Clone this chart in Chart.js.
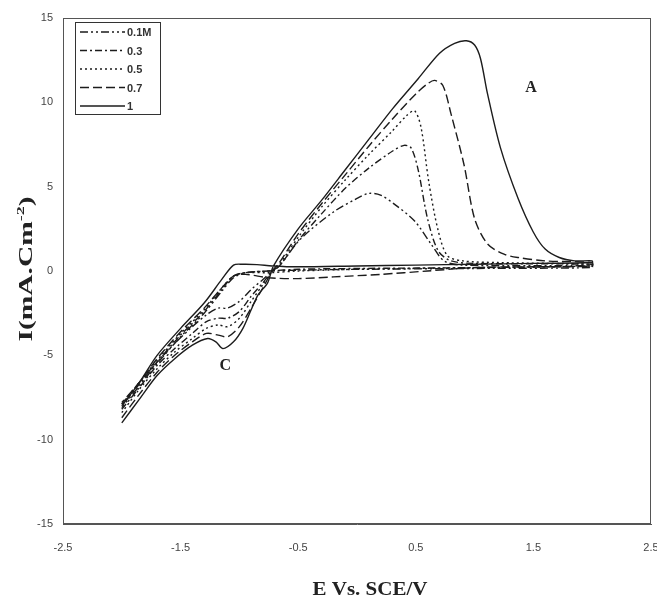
<!DOCTYPE html>
<html>
<head>
<meta charset="utf-8">
<script src="https://cdn.jsdelivr.net/npm/chart.js@4.4.1/dist/chart.umd.min.js"></script>
<style>
  html, body { margin: 0; padding: 0; background: #fff; }
  canvas { display: block; }
</style>
</head>
<body>
<canvas id="cv" width="657" height="604"></canvas>
<script>
// Cyclic voltammograms: current density vs potential for five concentrations.
// Each curve is one closed loop: forward sweep -2 V -> +2 V, then back.

const xTicks = [-2.5, -1.5, -0.5, 0.5, 1.5, 2.5];
const labels = ['0.1M', '0.3', '0.5', '0.7', '1'];

// 0.1 M
const e01 = [-2.0, -1.85, -1.7, -1.55, -1.4, -1.28, -1.18, -1.1, -1.0, -0.9, -0.8, -0.72, -0.66, -0.48, -0.2, 0.0, 0.1, 0.2, 0.32, 0.49, 0.63, 0.74, 0.9, 2.0,
             2.0, 1.0, 0.0, -0.5, -0.75, -0.95, -1.05, -1.15, -1.3, -1.5, -1.7, -1.85, -2.0];
const i01 = [-7.9, -6.6, -5.4, -4.3, -3.3, -2.6, -2.2, -2.2, -1.8, -1.1, -0.5, 0.0, 0.3, 1.9, 3.5, 4.3, 4.6, 4.5, 3.95, 2.96, 1.6, 0.6, 0.35, 0.3,
             0.2, 0.15, 0.1, 0.05, 0.0, -0.1, -0.4, -1.2, -2.5, -3.9, -5.5, -6.8, -8.1];

// 0.3 M
const e03 = [-2.0, -1.85, -1.7, -1.55, -1.4, -1.28, -1.18, -1.1, -1.0, -0.9, -0.8, -0.72, -0.66, -0.5, -0.3, -0.1, 0.1, 0.3, 0.4, 0.46, 0.52, 0.6, 0.69, 0.8, 1.0, 2.0,
             2.0, 1.0, 0.0, -0.5, -0.75, -0.95, -1.05, -1.15, -1.3, -1.5, -1.7, -1.85, -2.0];
const i03 = [-8.2, -6.9, -5.6, -4.6, -3.7, -3.0, -2.8, -2.8, -2.4, -1.5, -0.7, 0.0, 0.3, 1.8, 3.4, 4.9, 6.1, 7.1, 7.45, 7.3, 6.0, 3.1, 1.2, 0.6, 0.45, 0.4,
             0.3, 0.2, 0.15, 0.1, 0.0, -0.1, -0.3, -1.1, -2.4, -3.8, -5.4, -6.7, -8.0];

// 0.5 M
const e05 = [-2.0, -1.85, -1.7, -1.55, -1.4, -1.28, -1.18, -1.1, -1.0, -0.9, -0.8, -0.72, -0.66, -0.5, -0.3, -0.1, 0.1, 0.3, 0.42, 0.49, 0.545, 0.61, 0.69, 0.77, 0.9, 1.2, 2.0,
             2.0, 1.0, 0.0, -0.5, -0.75, -0.95, -1.05, -1.15, -1.3, -1.5, -1.7, -1.85, -2.0];
const i05 = [-8.4, -7.0, -5.8, -4.8, -4.0, -3.4, -3.2, -3.3, -2.8, -1.8, -0.8, 0.0, 0.4, 2.0, 3.8, 5.4, 6.9, 8.3, 9.2, 9.5, 8.5, 5.3, 2.4, 0.9, 0.6, 0.5, 0.4,
             0.3, 0.2, 0.1, 0.0, -0.1, -0.1, -0.3, -1.0, -2.3, -3.7, -5.3, -6.6, -7.9];

// 0.7 M
const e07 = [-2.0, -1.85, -1.7, -1.55, -1.4, -1.28, -1.18, -1.1, -1.0, -0.9, -0.8, -0.72, -0.66, -0.5, -0.3, -0.1, 0.1, 0.3, 0.5, 0.6, 0.66, 0.73, 0.8, 0.91, 1.0, 1.11, 1.25, 1.37, 1.6, 2.0,
             2.0, 1.5, 1.0, 0.6, 0.2, -0.2, -0.5, -0.75, -0.95, -1.05, -1.15, -1.3, -1.5, -1.7, -1.85, -2.0];
const i07 = [-8.7, -7.3, -6.0, -5.0, -4.2, -3.7, -3.8, -3.9, -3.3, -2.2, -1.0, 0.0, 0.5, 2.2, 4.0, 5.7, 7.4, 9.0, 10.5, 11.1, 11.3, 11.0, 9.3, 6.3, 3.1, 1.6, 1.0, 0.8, 0.6, 0.5,
             0.3, 0.25, 0.2, 0.0, -0.2, -0.35, -0.45, -0.4, -0.2, -0.3, -1.0, -2.2, -3.6, -5.2, -6.6, -7.8];

// 1 M
const e1 = [-2.0, -1.85, -1.7, -1.55, -1.4, -1.27, -1.2, -1.14, -1.05, -0.97, -0.9, -0.84, -0.76, -0.71, -0.5, -0.3, -0.1, 0.1, 0.3, 0.52, 0.7, 0.83, 0.93, 1.0, 1.05, 1.11, 1.22, 1.37, 1.5, 1.6, 1.72, 1.85, 2.0,
            2.0, 1.5, 1.0, 0.5, 0.0, -0.5, -0.72, -0.85, -0.97, -1.05, -1.15, -1.3, -1.5, -1.7, -1.85, -2.0];
const i1 = [-9.0, -7.6, -6.2, -5.2, -4.4, -4.0, -4.2, -4.6, -4.2, -3.4, -2.3, -1.4, -0.7, 0.3, 2.5, 4.2, 6.0, 7.8, 9.6, 11.4, 12.9, 13.5, 13.65, 13.4, 12.6, 10.5, 7.3, 4.3, 2.3, 1.3, 0.8, 0.6, 0.6,
            0.5, 0.45, 0.4, 0.35, 0.3, 0.25, 0.3, 0.38, 0.4, 0.35, -0.5, -1.9, -3.4, -5.0, -6.6, -8.0];

const series = [
  { label: labels[0], e: e01, i: i01, dash: [8, 3, 2, 3, 2, 3] },
  { label: labels[1], e: e03, i: i03, dash: [7, 3, 2, 3] },
  { label: labels[2], e: e05, i: i05, dash: [2, 3] },
  { label: labels[3], e: e07, i: i07, dash: [9, 4] },
  { label: labels[4], e: e1,  i: i1,  dash: [] }
];

const ink = '#1c1c1c';
const serif = '"Liberation Serif", "DejaVu Serif", serif';

const datasets = series.map(s => ({
  label: s.label,
  data: s.e.map((x, k) => ({ x: x, y: s.i[k] })),
  borderColor: ink,
  borderWidth: 1.4,
  borderDash: s.dash,
  pointRadius: 0,
  showLine: true,
  fill: false,
  tension: 0.3
}));

// Draws a run of [text, size, rise] pieces centred on the origin, stretched to a given width.
function drawStretched(ctx, pieces, targetWidth) {
  let total = 0;
  pieces.forEach(p => { ctx.font = 'bold ' + p[1] + 'px ' + serif; total += ctx.measureText(p[0]).width; });
  const k = targetWidth / total;
  ctx.scale(k, 1);
  let x = -total / 2;
  pieces.forEach(p => {
    ctx.font = 'bold ' + p[1] + 'px ' + serif;
    ctx.fillText(p[0], x, -p[2]);
    x += ctx.measureText(p[0]).width;
  });
}

// Closes the plot box and writes axis titles, peak letters and the legend.
const decor = {
  id: 'decor',
  afterDatasetsDraw(chart) {
    const { ctx, chartArea: a, scales } = chart;
    ctx.save();
    ctx.strokeStyle = '#555';
    ctx.lineWidth = 1;
    ctx.setLineDash([]);
    ctx.strokeRect(a.left + 0.5, a.top + 0.5, a.right - a.left - 1, a.bottom - a.top - 1);

    // Axis titles
    ctx.fillStyle = '#222';
    ctx.textAlign = 'left';
    ctx.textBaseline = 'middle';
    ctx.save();
    ctx.translate(370, 590);
    drawStretched(ctx, [['E Vs. SCE/V', 18, 0]], 115);
    ctx.restore();
    ctx.save();
    ctx.translate(27, 269);
    ctx.rotate(-Math.PI / 2);
    drawStretched(ctx, [['I(mA.Cm', 18, 0], ['-2', 11, 6], [')', 18, 0]], 145);
    ctx.restore();

    // Peak letters
    ctx.font = 'bold 16px ' + serif;
    ctx.textAlign = 'center';
    ctx.fillText('A', scales.x.getPixelForValue(1.48), scales.y.getPixelForValue(10.85));
    ctx.fillText('C', scales.x.getPixelForValue(-1.12), scales.y.getPixelForValue(-5.63));

    // Legend box
    const bx = 75, by = 22, bw = 85, bh = 92;
    ctx.strokeStyle = '#333';
    ctx.strokeRect(bx + 0.5, by + 0.5, bw, bh);
    ctx.font = 'bold 11px "Liberation Sans", Arial, sans-serif';
    ctx.textAlign = 'left';
    ctx.fillStyle = '#333';
    chart.data.datasets.forEach((d, k) => {
      const yy = by + 10 + k * 18.5;
      ctx.beginPath();
      ctx.setLineDash(d.borderDash);
      ctx.lineWidth = 1.3;
      ctx.strokeStyle = ink;
      ctx.moveTo(bx + 5, yy);
      ctx.lineTo(bx + 50, yy);
      ctx.stroke();
      ctx.setLineDash([]);
      ctx.fillText(d.label, bx + 52, yy + 1);
    });
    ctx.restore();
  }
};

new Chart(document.getElementById('cv').getContext('2d'), {
  type: 'scatter',
  data: { datasets },
  options: {
    responsive: false,
    animation: false,
    layout: { padding: { top: 18, right: 6, left: 0, bottom: 0 } },
    plugins: { legend: { display: false }, tooltip: { enabled: false } },
    scales: {
      x: {
        type: 'linear',
        min: -2.5, max: 2.5,
        afterBuildTicks: s => { s.ticks = xTicks.map(v => ({ value: v })); },
        afterFit: s => { s.height = 80; s.paddingLeft = 0; s.paddingRight = 0; },
        grid: { display: false, drawTicks: false },
        border: { display: true, color: '#555' },
        ticks: {
          padding: 17,
          color: '#444',
          font: { family: '"Liberation Sans", Arial, sans-serif', size: 11 },
          callback: v => v.toFixed(1)
        }
      },
      y: {
        type: 'linear',
        min: -15, max: 15,
        ticks: {
          stepSize: 5,
          padding: 10,
          color: '#444',
          font: { family: '"Liberation Sans", Arial, sans-serif', size: 11 }
        },
        afterFit: s => { s.width = 63; s.paddingTop = 0; s.paddingBottom = 0; },
        grid: { display: false, drawTicks: false },
        border: { display: true, color: '#555' }
      }
    }
  },
  plugins: [decor]
});
</script>
</body>
</html>
